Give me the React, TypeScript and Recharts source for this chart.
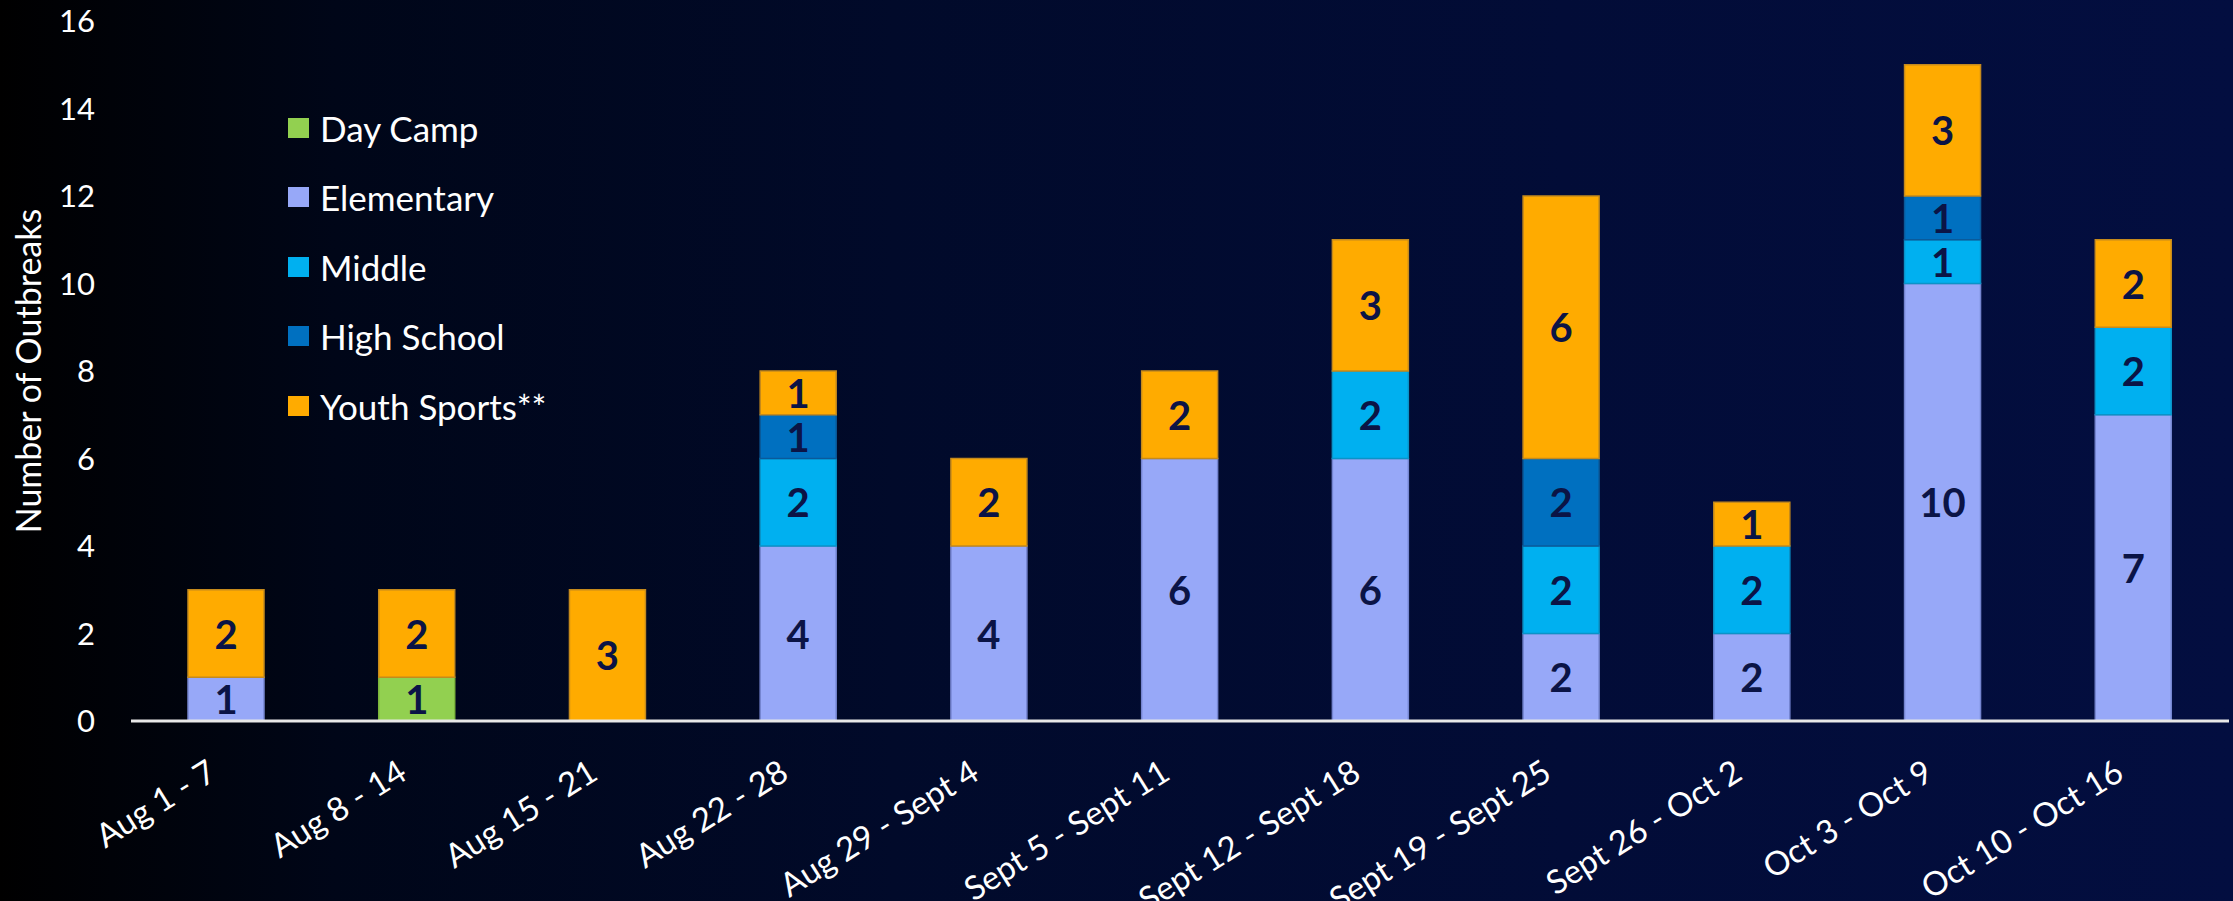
import React from 'react';
import { BarChart, Bar, XAxis, YAxis, LabelList } from 'recharts';

const weeks = [
  'Aug 1 - 7',
  'Aug 8 - 14',
  'Aug 15 - 21',
  'Aug 22 - 28',
  'Aug 29 - Sept 4',
  'Sept 5 - Sept 11',
  'Sept 12 - Sept 18',
  'Sept 19 - Sept 25',
  'Sept 26 - Oct 2',
  'Oct 3 - Oct 9',
  'Oct 10 - Oct 16',
];

const dayCamp = [0, 1, 0, 0, 0, 0, 0, 0, 0, 0, 0];
const elementary = [1, 0, 0, 4, 4, 6, 6, 2, 2, 10, 7];
const middle = [0, 0, 0, 2, 0, 0, 2, 2, 2, 1, 2];
const highSchool = [0, 0, 0, 1, 0, 0, 0, 2, 0, 1, 0];
const youthSports = [2, 2, 3, 1, 2, 2, 3, 6, 1, 3, 2];

const yTicks = [0, 2, 4, 6, 8, 10, 12, 14, 16];

// stacking order, bottom to top (also the legend order)
const series = [
  { key: 'dayCamp', name: 'Day Camp', values: dayCamp, color: '#92d050', edge: '#7bb53c' },
  { key: 'elementary', name: 'Elementary', values: elementary, color: '#97a8f8', edge: '#7585d0' },
  { key: 'middle', name: 'Middle', values: middle, color: '#00b0f0', edge: '#0a93c8' },
  { key: 'highSchool', name: 'High School', values: highSchool, color: '#0070c0', edge: '#0a5a9a' },
  { key: 'youthSports', name: 'Youth Sports**', values: youthSports, color: '#ffab00', edge: '#c58a1c' },
];

const data = weeks.map((week, i) => {
  const row: Record<string, string | number> = { week };
  series.forEach((s) => {
    row[s.key] = s.values[i];
  });
  return row;
});

const FONT = "Lato, 'Open Sans', sans-serif";
const LABEL_NAVY = '#0b1446';

function WeekTick({ x, y, payload }: any) {
  return (
    <g transform={`translate(${x - 8},${y + 55})`}>
      <text transform="rotate(-32)" textAnchor="end" fill="#ffffff" fontSize={33} fontFamily={FONT}>
        {payload.value}
      </text>
    </g>
  );
}

function SegmentLabel(props: any) {
  const { x, y, width, height, value } = props;
  if (!value) return null;
  return (
    <text
      x={x + width / 2}
      y={y + height / 2}
      textAnchor="middle"
      dominantBaseline="central"
      fill={LABEL_NAVY}
      fontSize={40}
      fontWeight={700}
      fontFamily={FONT}
    >
      {value}
    </text>
  );
}

function AxisTitle({ viewBox }: any) {
  const cx = viewBox.x + 27;
  const cy = viewBox.y + viewBox.height / 2;
  return (
    <text
      x={cx}
      y={cy}
      transform={`rotate(-90, ${cx}, ${cy})`}
      textAnchor="middle"
      dominantBaseline="central"
      fill="#ffffff"
      fontSize={34}
      fontFamily={FONT}
    >
      Number of Outbreaks
    </text>
  );
}

function SeriesLegend() {
  return (
    <div style={{ position: 'absolute', left: 288, top: 93, fontFamily: FONT }}>
      {series.map((s) => (
        <div key={s.key} style={{ display: 'flex', alignItems: 'center', height: 69.5 }}>
          <span style={{ width: 21, height: 20, background: s.color, marginRight: 11, display: 'inline-block' }} />
          <span style={{ color: '#ffffff', fontSize: 35 }}>{s.name}</span>
        </div>
      ))}
    </div>
  );
}

export default function App() {
  return (
    <div
      style={{
        position: 'absolute',
        left: 0,
        top: 0,
        width: 2233,
        height: 901,
        overflow: 'hidden',
        background: 'linear-gradient(90deg, #000000 0%, #000618 15%, #010a2a 40%, #020c37 70%, #030e40 100%)',
      }}
    >
      <BarChart width={2233} height={901} data={data} margin={{ top: 21, right: 4, left: 0, bottom: 0 }} barSize={76}>
        <XAxis
          dataKey="week"
          height={180}
          interval={0}
          tickLine={false}
          tickSize={0}
          axisLine={{ stroke: '#e8e8e8', strokeWidth: 3 }}
          tick={<WeekTick />}
        />
        <YAxis
          width={131}
          domain={[0, 16]}
          ticks={yTicks}
          axisLine={false}
          tickLine={false}
          tickSize={0}
          tickMargin={36}
          tick={{ fill: '#ffffff', fontSize: 31, fontFamily: FONT }}
          label={<AxisTitle />}
        />
        {series.map((s) => (
          <Bar
            key={s.key}
            dataKey={s.key}
            name={s.name}
            stackId="week"
            fill={s.color}
            stroke={s.edge}
            strokeWidth={1.5}
            isAnimationActive={false}
          >
            <LabelList dataKey={s.key} content={<SegmentLabel />} />
          </Bar>
        ))}
      </BarChart>
      <SeriesLegend />
    </div>
  );
}
